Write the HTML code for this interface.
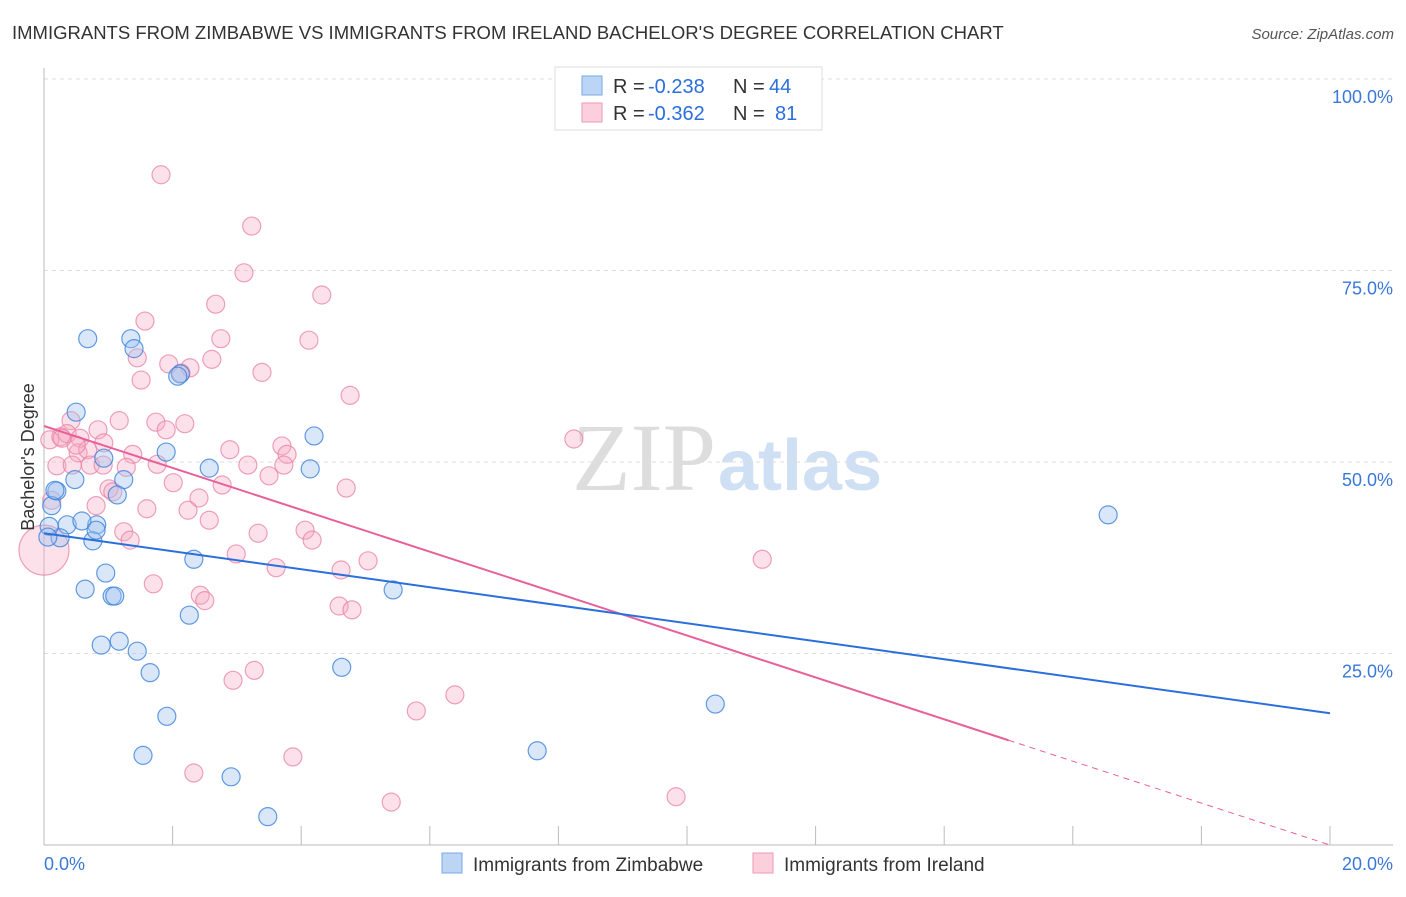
<!DOCTYPE html>
<html><head><meta charset="utf-8"><style>
body{margin:0;background:#fff;font-family:"Liberation Sans",sans-serif}
</style></head><body>
<svg id="chart" width="1406" height="892" xmlns="http://www.w3.org/2000/svg">
<text x="12" y="39" font-size="18.5" fill="#333">IMMIGRANTS FROM ZIMBABWE VS IMMIGRANTS FROM IRELAND BACHELOR'S DEGREE CORRELATION CHART</text>
<text x="1394" y="39" font-size="15" fill="#555" font-style="italic" text-anchor="end">Source: ZipAtlas.com</text>
<text x="716" y="490" font-size="96" fill="#ddd" font-family="Liberation Serif, serif" text-anchor="end">ZIP</text>
<text x="718" y="490" font-size="72" fill="#cfe0f4" font-weight="bold">atlas</text>
<g id="grid"></g><g id="marks"></g>
<text transform="translate(34,457) rotate(-90)" font-size="18" fill="#333" text-anchor="middle">Bachelor's Degree</text>
<g>
<rect x="555" y="67" width="267" height="63" fill="#fff" stroke="#ddd"/>
<rect x="582" y="76" width="20" height="19" fill="#bcd5f5" stroke="#7aa8e8"/>
<rect x="582" y="103" width="20" height="19" fill="#fccfdc" stroke="#ef9ab4"/>
<text x="613" y="93" font-size="20" fill="#333">R =</text>
<text x="648" y="93" font-size="20" fill="#2a6fdb">-0.238</text>
<text x="733" y="93" font-size="20" fill="#333">N =</text>
<text x="769" y="93" font-size="20" fill="#2a6fdb">44</text>
<text x="613" y="120" font-size="20" fill="#333">R =</text>
<text x="648" y="120" font-size="20" fill="#2a6fdb">-0.362</text>
<text x="733" y="120" font-size="20" fill="#333">N =</text>
<text x="775" y="120" font-size="20" fill="#2a6fdb">81</text>
</g>
<g>
<rect x="442" y="853" width="20" height="20" fill="#bcd5f5" stroke="#7aa8e8"/>
<text x="473" y="871" font-size="19" fill="#333">Immigrants from Zimbabwe</text>
<rect x="753" y="853" width="20" height="20" fill="#fccfdc" stroke="#ef9ab4"/>
<text x="784" y="871" font-size="19" fill="#333">Immigrants from Ireland</text>
</g>
</svg>
<script>
const blueX=[0.68,1.35,1.40,2.12,0.50,1.90,2.57,4.20,4.14,0.93,1.24,1.14,0.48,0.20,0.12,0.36,0.82,0.59,0.25,0.76,0.81,0.08,2.33,0.96,0.64,1.06,1.10,5.43,2.26,1.17,0.89,1.45,1.65,4.63,1.91,10.44,16.55,1.54,2.91,7.67,3.48,2.08,0.17,0.06];
const blueY=[66.1,66.1,64.8,61.5,56.5,51.3,49.2,53.4,49.1,50.5,47.7,45.7,47.7,46.2,44.3,41.8,41.8,42.3,40.1,39.7,41.1,41.6,37.3,35.5,33.4,32.5,32.5,33.3,30.0,26.6,26.1,25.3,22.5,23.2,16.8,18.4,43.1,11.7,8.9,12.3,3.7,61.2,46.3,40.2];
const pinkX=[1.82,3.23,3.11,4.32,2.67,1.57,2.75,4.12,2.61,1.45,1.94,2.27,3.39,1.51,4.76,2.13,0.42,1.17,1.74,2.19,0.84,1.90,0.26,0.36,0.56,0.53,0.68,0.93,1.38,0.50,0.20,0.44,0.72,0.92,1.28,1.76,2.89,3.70,3.17,3.78,3.73,3.50,8.24,2.01,2.41,2.77,1.01,1.07,1.60,2.24,2.57,3.33,4.70,4.06,4.17,1.24,1.34,2.99,3.61,4.62,5.04,11.17,1.70,2.43,2.50,4.59,4.79,3.27,2.94,6.39,5.79,2.33,3.87,5.40,9.83,0.09,0.12,0.28,0.81,0.0];
const pinkY=[87.5,80.8,74.7,71.8,70.6,68.4,66.1,65.9,63.4,63.6,62.8,62.3,61.7,60.7,58.7,61.6,55.4,55.4,55.2,55.0,54.2,54.2,53.3,53.7,53.1,51.2,51.6,52.5,51.0,52.2,49.5,49.6,49.6,49.6,49.3,49.7,51.6,52.1,49.6,51.0,49.6,48.2,53.0,47.3,45.3,47.0,46.5,46.1,43.9,43.7,42.4,40.7,46.6,41.1,39.8,40.9,39.8,38.0,36.2,35.9,37.1,37.3,34.1,32.6,31.9,31.2,30.7,22.8,21.5,19.6,17.5,9.4,11.5,5.6,6.3,52.9,45.0,53.1,44.3,38.5];
const pinkBig=[79];
const blueTrend=[40.7,17.2];
const pinkTrend=[54.7,0.0];
const pinkSolidEnd=15.0;
const yTicks=[25,50,75,100];
const xTicks=[0,2,4,6,8,10,12,14,16,18,20];
(function(){
const NS='http://www.w3.org/2000/svg';
const X=v=>44+v*64.3, Y=v=>845-v*7.66;
function mk(t,a,p){const e=document.createElementNS(NS,t);for(const k in a)e.setAttribute(k,a[k]);p.appendChild(e);return e;}
const g=document.getElementById('grid'), m=document.getElementById('marks');
yTicks.forEach(v=>{
 const l=mk('line',{x1:44,x2:1393,y1:Y(v),y2:Y(v),stroke:'#ddd','stroke-dasharray':'4,4'},g);
 
 
 const t=mk('text',{x:1393,y:Y(v)+24,'font-size':18,fill:'#3a78d8','text-anchor':'end'},g);
 t.textContent=v.toFixed(1)+'%';
 
 
});
const topLine=mk('line',{x1:44,x2:1393,y1:79,y2:79,stroke:'#ddd','stroke-dasharray':'4,4'},g);


const ax=mk('line',{x1:44,x2:44,y1:68,y2:845,stroke:'#bbb'},g);


const bx=mk('line',{x1:44,x2:1393,y1:845,y2:845,stroke:'#bbb'},g);


xTicks.forEach(v=>{
 const l=mk('line',{x1:X(v),x2:X(v),y1:826,y2:845,stroke:'#bbb'},g);
 
 
});
[[0,'start'],[20,'end']].forEach(([v,a])=>{
 const t=mk('text',{x:v===0?44:1393,y:870,'font-size':18,fill:'#3a78d8','text-anchor':a},g);
 t.textContent=v.toFixed(1)+'%';
 
 
});
pinkX.forEach((v,i)=>{
 const c=mk('circle',{cx:X(v),cy:Y(pinkY[i]),r:pinkBig.includes(i)?25:9,fill:'rgba(245,170,195,0.35)',stroke:'rgba(232,130,165,0.75)','stroke-width':1.2},m);
 
 
});
blueX.forEach((v,i)=>{
 const c=mk('circle',{cx:X(v),cy:Y(blueY[i]),r:9,fill:'rgba(160,196,240,0.4)',stroke:'rgba(60,130,220,0.8)','stroke-width':1.2},m);
 
 
});
const pAt=x=>pinkTrend[0]+(pinkTrend[1]-pinkTrend[0])*x/20;
const pl=mk('line',{x1:X(0),y1:Y(pinkTrend[0]),x2:X(pinkSolidEnd),y2:Y(pAt(pinkSolidEnd)),stroke:'#e8609a','stroke-width':2},m);


const pd=mk('line',{x1:X(pinkSolidEnd),y1:Y(pAt(pinkSolidEnd)),x2:X(20),y2:Y(pinkTrend[1]),stroke:'#e8609a','stroke-width':1,'stroke-dasharray':'6,5'},m);


const bl=mk('line',{x1:X(0),y1:Y(blueTrend[0]),x2:X(20),y2:Y(blueTrend[1]),stroke:'#2a6fdb','stroke-width':2},m);


})();
</script>
</body></html>
